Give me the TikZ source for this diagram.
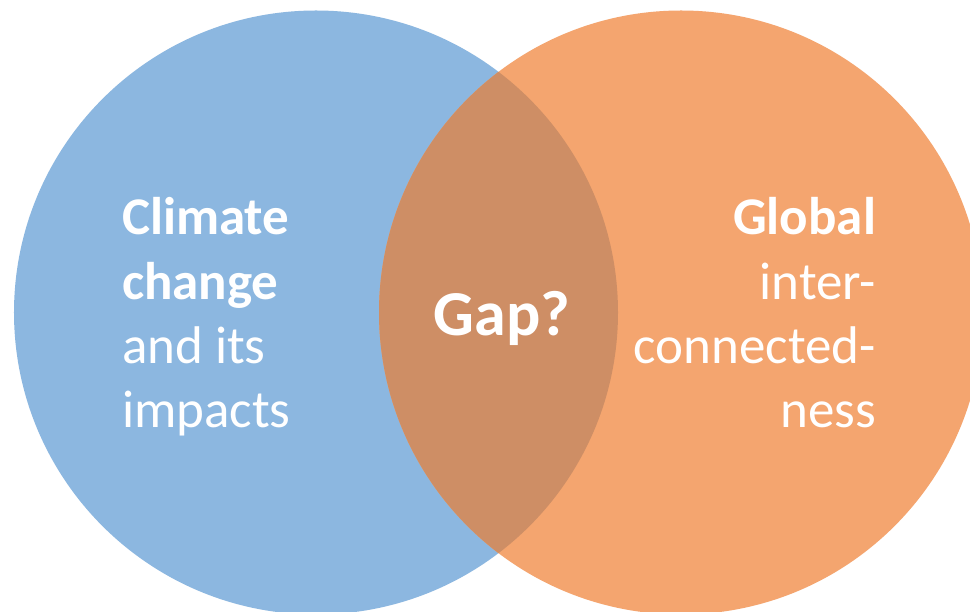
\documentclass[tikz,border=0pt]{standalone}
\usepackage{fontspec}
\setmainfont{Carlito}
\definecolor{bluec}{HTML}{8CB7E0}
\definecolor{orangec}{HTML}{F4A56F}
\definecolor{overlapc}{HTML}{CE8E65}
\tikzset{
  circ/.style={circle,minimum size=#1,inner sep=0pt,outer sep=0pt},
  lab/.style={text=white,font=\fontsize{53bp}{60bp}\selectfont,inner sep=0pt,outer sep=0pt}
}
\begin{document}
\begin{tikzpicture}[x=1bp,y=-1bp]
\useasboundingbox (0,0) rectangle (970,612);
\fill[white] (0,0) rectangle (970,612);
\clip (0,0) rectangle (970,612);
\node[circ=604bp,fill=bluec] (left) at (316,312.5) {};
\node[circ=604bp,fill=orangec] (right) at (681,312.5) {};
\begin{scope}
\clip (316,312.5) circle (302);
\fill[overlapc] (681,312.5) circle (302);
\end{scope}
\node[lab,anchor=base west] (t1) at (122,235) {\textbf{Climate}};
\node[lab,anchor=base west] (t2) at (122,299) {\textbf{change}};
\node[lab,anchor=base west] (t3) at (122,363) {and its};
\node[lab,anchor=base west] (t4) at (122,427) {impacts};
\node[lab,anchor=base east] (r1) at (876,235) {\textbf{Global}};
\node[lab,anchor=base east] (r2) at (876,299) {inter-};
\node[lab,anchor=base east] (r3) at (876,363) {connected-};
\node[lab,anchor=base east] (r4) at (876,427) {ness};
\node[lab,anchor=base,font=\fontsize{64bp}{70bp}\selectfont] (g) at (502,335) {\textbf{Gap?}};
\end{tikzpicture}
\end{document}
